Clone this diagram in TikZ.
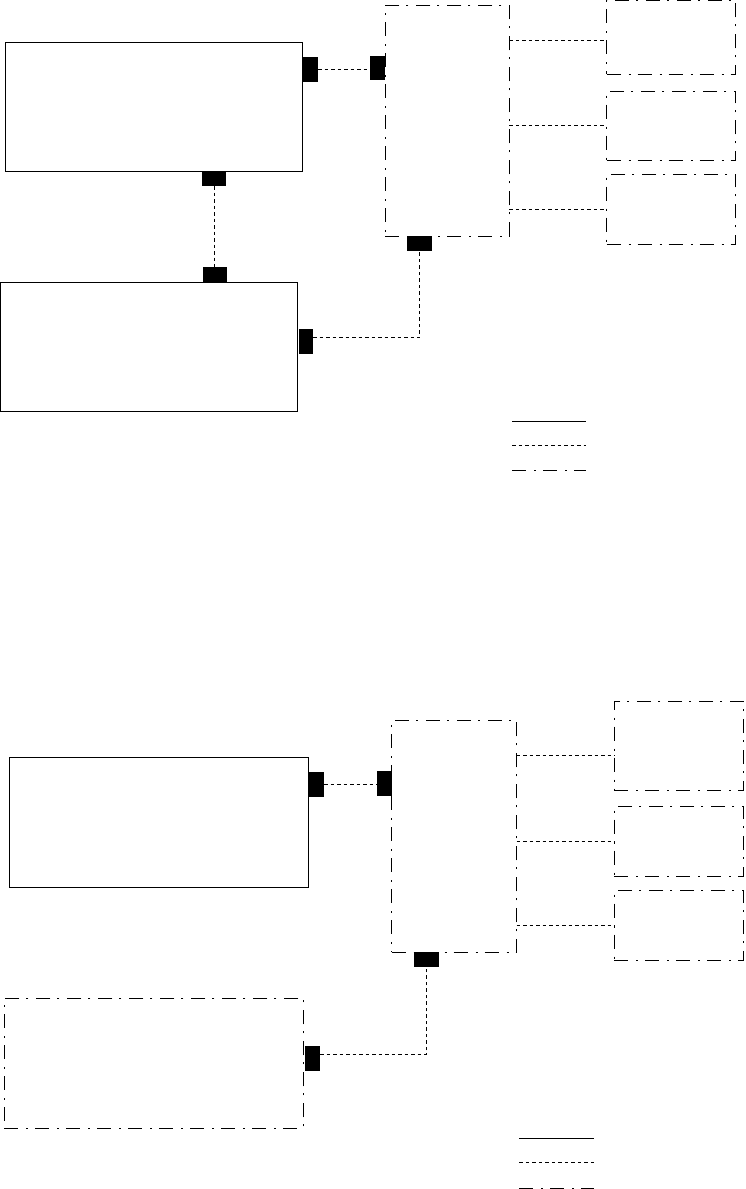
\documentclass[tikz,border=0pt]{standalone}
\usepackage{tikz}
\usetikzlibrary{positioning}

\tikzset{
  block/.style={draw, line width=0.8pt, inner sep=0pt, outer sep=0pt, anchor=north west},
  dashblock/.style={block, dash pattern=on 14pt off 8pt on 2pt off 7pt},
  port/.style={fill=black, inner sep=0pt, outer sep=0pt, anchor=north west},
  link/.style={line width=0.8pt, dash pattern=on 3.5pt off 3pt},
}

\begin{document}
\begin{tikzpicture}[x=1pt, y=-1pt]
  \useasboundingbox (0,0) rectangle (745,1189);

  % ---- upper panel: blocks
  \node[block, minimum width=297pt, minimum height=129pt] (upA) at (5,42) {};
  \node[block, minimum width=297pt, minimum height=129pt] (upB) at (0.5,282.3) {};
  \node[dashblock, minimum width=124pt, minimum height=231pt] (upC) at (385.3,5.3) {};
  \node[dashblock, minimum width=129pt, minimum height=74pt] (upD1) at (606.7,0.3) {};
  \node[dashblock, minimum width=129pt, minimum height=69.3pt] (upD2) at (606.7,91) {};
  \node[dashblock, minimum width=129pt, minimum height=70.3pt] (upD3) at (606.7,174) {};

  % ---- upper panel: ports
  \node[port, minimum width=16pt, minimum height=25pt] (upAr) at (302,57) {};
  \node[port, minimum width=24pt, minimum height=15pt] (upAb) at (202,171) {};
  \node[port, minimum width=24pt, minimum height=15pt] (upBt) at (203,267) {};
  \node[port, minimum width=14pt, minimum height=25pt] (upBr) at (299,329) {};
  \node[port, minimum width=15pt, minimum height=24pt] (upCl) at (370,56) {};
  \node[port, minimum width=25pt, minimum height=15pt] (upCb) at (407,236) {};

  % ---- upper panel: links
  \draw[link] (upAr.east) -- (upAr.east -| upCl.west);
  \draw[link] (upAb.south) -- (upAb.south |- upBt.north);
  \draw[link] ([yshift=4pt]upBr.east) -| (upCb.south);
  \draw[link] ([yshift=-3pt]upD1.west -| upC.east) -- ([yshift=-3pt]upD1.west);
  \draw[link] (upD2.west -| upC.east) -- (upD2.west);
  \draw[link] (upD3.west -| upC.east) -- (upD3.west);

  % ---- upper panel: legend
  \draw[line width=0.8pt] (512,421.3) -- (586,421.3);
  \draw[link] (512,445) -- (586,445);
  \draw[line width=0.8pt, dash pattern=on 14pt off 8pt on 2pt off 7pt] (512,470.3) -- (586,470.3);

  % ---- lower panel: blocks
  \node[block, minimum width=299.4pt, minimum height=130pt] (loA) at (9.3,757.3) {};
  \node[dashblock, minimum width=299pt, minimum height=130pt] (loB) at (4.3,998.3) {};
  \node[dashblock, minimum width=125pt, minimum height=232pt] (loC) at (391.7,720.3) {};
  \node[dashblock, minimum width=129pt, minimum height=88.7pt] (loD1) at (614.3,701.3) {};
  \node[dashblock, minimum width=129pt, minimum height=69.7pt] (loD2) at (614.3,806.3) {};
  \node[dashblock, minimum width=129pt, minimum height=69.7pt] (loD3) at (614.3,890.3) {};

  % ---- lower panel: ports
  \node[port, minimum width=15.3pt, minimum height=24.7pt] (loAr) at (308.7,772) {};
  \node[port, minimum width=15pt, minimum height=25pt] (loCl) at (377,771) {};
  \node[port, minimum width=25pt, minimum height=14.7pt] (loCb) at (414,952) {};
  \node[port, minimum width=15pt, minimum height=24.7pt] (loBr) at (305,1046) {};

  % ---- lower panel: links
  \draw[link] (loAr.east) -- (loAr.east -| loCl.west);
  \draw[link] ([yshift=4pt]loBr.east) -| (loCb.south);
  \draw[link] ([yshift=-10pt]loD1.west -| loC.east) -- ([yshift=-10pt]loD1.west);
  \draw[link] (loD2.west -| loC.east) -- (loD2.west);
  \draw[link] (loD3.west -| loC.east) -- (loD3.west);

  % ---- lower panel: legend
  \draw[line width=0.8pt] (519.3,1138.3) -- (593.7,1138.3);
  \draw[link] (519.3,1162.3) -- (593.7,1162.3);
  \draw[line width=0.8pt, dash pattern=on 14pt off 8pt on 2pt off 7pt] (519.3,1188.3) -- (593.7,1188.3);
\end{tikzpicture}
\end{document}
